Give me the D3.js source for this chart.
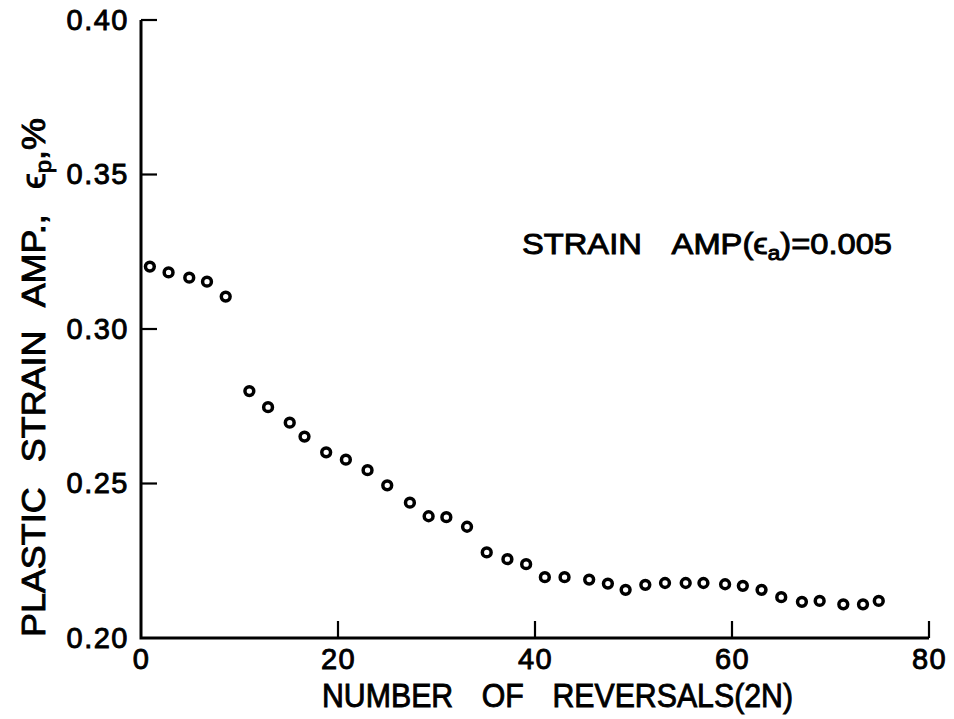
<!DOCTYPE html>
<html>
<head>
<meta charset="utf-8">
<script src="https://cdn.jsdelivr.net/npm/d3@7"></script>
<style>
  html, body { margin: 0; padding: 0; background: #fff; }
  svg text { font-family: "Liberation Sans", Arial, sans-serif; fill: #000; stroke: #000; stroke-width: 0.9px; }
</style>
</head>
<body>
<svg id="chart"></svg>
<script>
const width = 954;
const height = 719;

// reversals (2N)
const reversals = [0.9, 2.8, 4.9, 6.7, 8.6, 11.0, 12.9, 15.1, 16.6, 18.8,
    20.8, 23.0, 25.0, 27.3, 29.2, 31.0, 33.1, 35.1, 37.2, 39.1,
    41.0, 43.0, 45.5, 47.4, 49.2, 51.2, 53.2, 55.3, 57.1, 59.3,
    61.1, 63.0, 65.0, 67.1, 68.9, 71.3, 73.3, 74.9];
// plastic strain amplitude, %
const strainAmp = [0.3202, 0.3183, 0.3166, 0.3153, 0.3105, 0.2799, 0.2747, 0.2697, 0.2652, 0.2601,
    0.2577, 0.2543, 0.2494, 0.2438, 0.2394, 0.2391, 0.2360, 0.2277, 0.2255, 0.2239,
    0.2197, 0.2197, 0.2189, 0.2176, 0.2156, 0.2172, 0.2178, 0.2178, 0.2178, 0.2174,
    0.2169, 0.2156, 0.2132, 0.2117, 0.2120, 0.2109, 0.2109, 0.2120];
const xTicks = [0, 20, 40, 60, 80];
const yTicks = [0.20, 0.25, 0.30, 0.35, 0.40];

const data = reversals.map((d, i) => ({ x: d, y: strainAmp[i] }));

const svg = d3.select('#chart')
    .attr('width', width)
    .attr('height', height);

const x = d3.scaleLinear().domain([0, 80]).range([141, 929]);
const y = d3.scaleLinear().domain([0.20, 0.40]).range([638, 20]);

// X axis (labels only, lines drawn below)
const gx = svg.append('g')
    .attr('transform', 'translate(0,' + y(0.20) + ')')
    .call(d3.axisBottom(x)
        .tickValues(xTicks)
        .tickSize(0)
        .tickPadding(10)
        .tickFormat(d3.format('d')));

// Y axis
const gy = svg.append('g')
    .attr('transform', 'translate(' + x(0) + ',0)')
    .call(d3.axisLeft(y)
        .tickValues(yTicks)
        .tickSize(0)
        .tickPadding(12)
        .tickFormat(d3.format('.2f')));

[gx, gy].forEach(g => {
    g.select('.domain').remove();
    g.selectAll('.tick text')
        .attr('font-size', 29)
        .attr('font-family', null)
        .attr('letter-spacing', 1.5);
});

// ticks pointing inward
svg.append('g')
    .selectAll('line')
    .data(xTicks.filter(d => d > 0))
    .join('line')
    .attr('x1', d => x(d))
    .attr('x2', d => x(d))
    .attr('y1', y(0.20))
    .attr('y2', y(0.20) - 17)
    .attr('stroke', '#000')
    .attr('stroke-width', 2.2);

svg.append('g')
    .selectAll('line')
    .data(yTicks.filter(d => d > 0.20))
    .join('line')
    .attr('x1', x(0))
    .attr('x2', x(0) + 16)
    .attr('y1', d => y(d))
    .attr('y2', d => y(d))
    .attr('stroke', '#000')
    .attr('stroke-width', 2.2);

// axis frame (left + bottom)
svg.append('path')
    .attr('d', 'M' + x(0) + ',' + y(0.40) + 'V' + y(0.20) + 'H' + x(80))
    .attr('fill', 'none')
    .attr('stroke', '#000')
    .attr('stroke-width', 3);

// markers
svg.append('g')
    .selectAll('circle')
    .data(data)
    .join('circle')
    .attr('cx', d => x(d.x))
    .attr('cy', d => y(d.y))
    .attr('r', 4.4)
    .attr('fill', 'none')
    .attr('stroke', '#000')
    .attr('stroke-width', 3.5);

// x title
svg.append('text')
    .attr('x', 322)
    .attr('y', 707)
    .attr('font-size', 33)
    .attr('word-spacing', 22)
    .attr('textLength', 471)
    .attr('lengthAdjust', 'spacingAndGlyphs')
    .text('NUMBER OF REVERSALS(2N)');

// y title
const yTitle = svg.append('text')
    .attr('transform', 'translate(45,637) rotate(-90)')
    .attr('font-size', 33)
    .attr('word-spacing', 14)
    .attr('textLength', 519)
    .attr('lengthAdjust', 'spacingAndGlyphs');
yTitle.append('tspan').text('PLASTIC STRAIN AMP., ϵ');
yTitle.append('tspan').attr('font-size', 22).attr('dy', 6).text('p');
yTitle.append('tspan').attr('dy', -6).text(',%');

// annotation
const note = svg.append('text')
    .attr('x', 522)
    .attr('y', 254)
    .attr('font-size', 29)
    .attr('word-spacing', 20)
    .attr('textLength', 370)
    .attr('lengthAdjust', 'spacingAndGlyphs');
note.append('tspan').text('STRAIN AMP(ϵ');
note.append('tspan').attr('font-size', 20).attr('dy', 6).text('a');
note.append('tspan').attr('dy', -6).text(')=0.005');
</script>
</body>
</html>
